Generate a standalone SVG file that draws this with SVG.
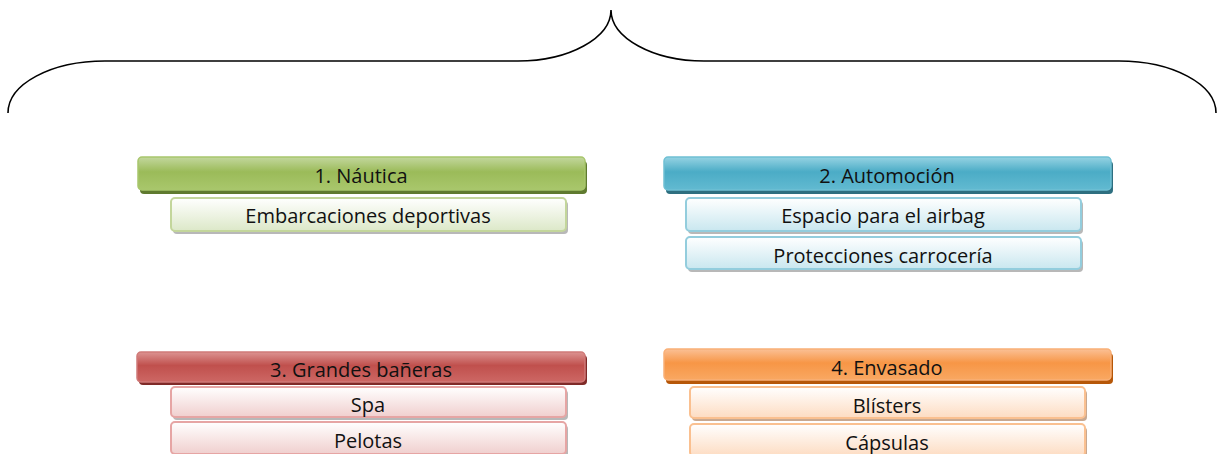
<svg xmlns="http://www.w3.org/2000/svg" width="1219" height="454" viewBox="0 0 1219 454">
<style>
text{font-family:"Open Sans","Liberation Sans",sans-serif;font-size:20px;fill:#111;text-anchor:middle;dominant-baseline:central}
.brace{fill:none;stroke:#000;stroke-width:1.6}
</style>
<defs>
<linearGradient id="gG" x1="0" y1="0" x2="0" y2="1"><stop offset="0" stop-color="#c3d79e"/><stop offset="0.45" stop-color="#9bbb59"/><stop offset="1" stop-color="#a9c76c"/></linearGradient>
<linearGradient id="gB" x1="0" y1="0" x2="0" y2="1"><stop offset="0" stop-color="#96d3e3"/><stop offset="0.45" stop-color="#4bacc6"/><stop offset="1" stop-color="#62bad1"/></linearGradient>
<linearGradient id="gR" x1="0" y1="0" x2="0" y2="1"><stop offset="0" stop-color="#dc9391"/><stop offset="0.45" stop-color="#c0504d"/><stop offset="1" stop-color="#cd6764"/></linearGradient>
<linearGradient id="gO" x1="0" y1="0" x2="0" y2="1"><stop offset="0" stop-color="#fbc095"/><stop offset="0.45" stop-color="#f79646"/><stop offset="1" stop-color="#f9a862"/></linearGradient>
<linearGradient id="sG" x1="0" y1="0" x2="0" y2="1"><stop offset="0" stop-color="#ffffff"/><stop offset="1" stop-color="#dce8c8"/></linearGradient>
<linearGradient id="sB" x1="0" y1="0" x2="0" y2="1"><stop offset="0" stop-color="#ffffff"/><stop offset="1" stop-color="#c9e7ef"/></linearGradient>
<linearGradient id="sR" x1="0" y1="0" x2="0" y2="1"><stop offset="0" stop-color="#ffffff"/><stop offset="1" stop-color="#f0cfce"/></linearGradient>
<linearGradient id="sO" x1="0" y1="0" x2="0" y2="1"><stop offset="0" stop-color="#ffffff"/><stop offset="1" stop-color="#fddcc2"/></linearGradient>
</defs>
<g id="connectors">
<path class="brace" d="M8,113 C8,84 51,61 105,61 L518,61 C569,61 611,38 611,10 C611,38 653,61 704,61 L1119,61 C1172,61 1216,84 1216,113"/>
</g>
<g id="node1">
<rect x="140" y="161" width="447" height="33" rx="4" fill="#5f7a2f"/>
<rect x="138" y="157" width="447" height="33" rx="4" fill="url(#gG)" stroke="#a8c66c" stroke-width="1.5"/>
<text x="361" y="175">1. Náutica</text>
</g>
<g id="node1a">
<rect x="173" y="201" width="395" height="33" rx="4" fill="#b8b8b8"/>
<rect x="171" y="198" width="395" height="33" rx="4" fill="url(#sG)" stroke="#c3d69b" stroke-width="2"/>
<text x="368" y="215">Embarcaciones deportivas</text>
</g>
<g id="node2">
<rect x="666" y="161" width="447" height="33" rx="4" fill="#2e6f80"/>
<rect x="664" y="157" width="447" height="33" rx="4" fill="url(#gB)" stroke="#6fc0d4" stroke-width="1.5"/>
<text x="887" y="175">2. Automoción</text>
</g>
<g id="node2a">
<rect x="688" y="201" width="395" height="33" rx="4" fill="#b8b8b8"/>
<rect x="686" y="198" width="395" height="33" rx="4" fill="url(#sB)" stroke="#93cddd" stroke-width="2"/>
<text x="883" y="215">Espacio para el airbag</text>
</g>
<g id="node2b">
<rect x="688" y="240" width="395" height="32" rx="4" fill="#b8b8b8"/>
<rect x="686" y="237" width="395" height="32" rx="4" fill="url(#sB)" stroke="#93cddd" stroke-width="2"/>
<text x="883" y="255">Protecciones carrocería</text>
</g>
<g id="node3">
<rect x="139" y="355" width="448" height="30" rx="4" fill="#7f2a28"/>
<rect x="137" y="352" width="448" height="30" rx="4" fill="url(#gR)" stroke="#d07a78" stroke-width="1.5"/>
<text x="361" y="369">3. Grandes bañeras</text>
</g>
<g id="node3a">
<rect x="173" y="390" width="395" height="30" rx="4" fill="#b8b8b8"/>
<rect x="171" y="387" width="395" height="30" rx="4" fill="url(#sR)" stroke="#e6a5a4" stroke-width="2"/>
<text x="368" y="404">Spa</text>
</g>
<g id="node3b">
<rect x="173" y="425" width="395" height="32" rx="4" fill="#b8b8b8"/>
<rect x="171" y="422" width="395" height="32" rx="4" fill="url(#sR)" stroke="#e6a5a4" stroke-width="2"/>
<text x="368" y="440">Pelotas</text>
</g>
<g id="node4">
<rect x="666" y="353" width="447" height="31" rx="4" fill="#b65708"/>
<rect x="664" y="349" width="447" height="31" rx="4" fill="url(#gO)" stroke="#f9b077" stroke-width="1.5"/>
<text x="887" y="367">4. Envasado</text>
</g>
<g id="node4a">
<rect x="692" y="390" width="395" height="31" rx="4" fill="#c8a890"/>
<rect x="690" y="387" width="395" height="31" rx="4" fill="url(#sO)" stroke="#fac090" stroke-width="2"/>
<text x="887" y="405">Blísters</text>
</g>
<g id="node4b">
<rect x="692" y="427" width="395" height="32" rx="4" fill="#c8a890"/>
<rect x="690" y="424" width="395" height="32" rx="4" fill="url(#sO)" stroke="#fac090" stroke-width="2"/>
<text x="887" y="442">Cápsulas</text>
</g>
</svg>
